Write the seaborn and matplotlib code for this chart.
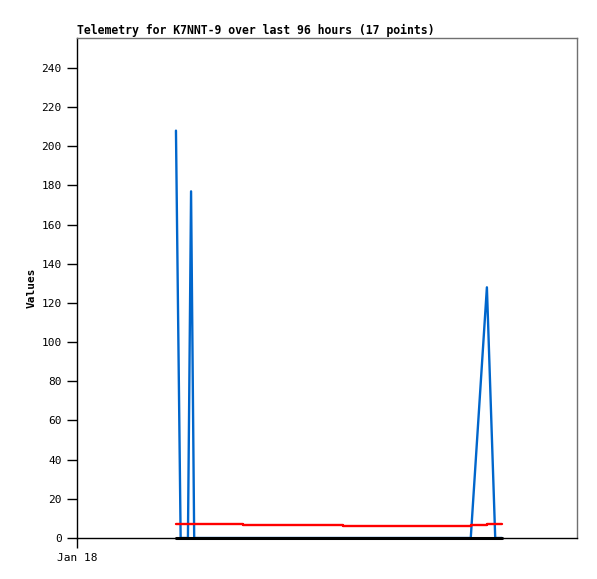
import matplotlib
matplotlib.use("Agg")
import matplotlib.pyplot as plt
import seaborn as sns
import pandas as pd

# Sample times (hours since Jan 18 00:00) and telemetry values
hours = [19.0, 19.9, 21.3, 21.9, 22.5, 25.4, 31.9, 39.0, 51.1, 58.2, 65.9, 71.0, 75.6, 78.7, 80.3, 81.0, 81.6]
blue_vals = [208, 0, 0, 177, 0, 0, 0, 0, 0, 0, 0, 0, 0, 128, 0, 0, 0]
red_vals = [7.0, 7.0, 7.0, 7.0, 7.0, 7.0, 6.5, 6.5, 6.0, 6.0, 6.0, 6.0, 6.5, 7.0, 7.0, 7.0, 7.0]
black_vals = [0] * 17

title = "Telemetry for K7NNT-9 over last 96 hours (17 points)"
y_ticks = list(range(0, 241, 20))
x_tick_labels = ["Jan 18"]

df = pd.DataFrame({"hours": hours, "blue": blue_vals, "red": red_vals, "black": black_vals})

sns.set_style("white")
plt.rcParams["font.family"] = ["DejaVu Sans Mono"]

fig = plt.figure(figsize=(5.97, 5.79), dpi=100)
ax = fig.add_axes([77 / 597, 41 / 579, 500 / 597, 500 / 579])

sns.lineplot(data=df, x="hours", y="blue", ax=ax, color="#0066CC", linewidth=1.7, zorder=2)
sns.lineplot(data=df, x="hours", y="red", ax=ax, color="#FF0000", linewidth=1.7, zorder=3,
             drawstyle="steps-post")
sns.lineplot(data=df, x="hours", y="black", ax=ax, color="#000000", linewidth=2.2, zorder=4,
             clip_on=False)

ax.set_xlim(0, 96)
ax.set_ylim(0, 255.3)
ax.set_yticks(y_ticks)
ax.set_yticklabels([str(v) for v in y_ticks], fontsize=8)
ax.set_xticks([0])
ax.set_xticklabels(x_tick_labels, fontsize=8)
ax.tick_params(axis="both", direction="out", length=7, width=1, color="black",
               labelcolor="black", pad=4, left=True, bottom=True)

for s in ["left", "bottom"]:
    ax.spines[s].set_color("black")
    ax.spines[s].set_linewidth(1)
for s in ["top", "right"]:
    ax.spines[s].set_color("#707070")
    ax.spines[s].set_linewidth(1)

ax.set_xlabel("")
ax.set_ylabel("Values", fontsize=8, fontweight="bold", color="black")
ax.yaxis.set_label_coords(-0.08, 0.5)
ax.set_title(title, loc="left", fontsize=8.3, fontweight="bold", pad=3, color="black")

fig.savefig("out.png", dpi=100)
